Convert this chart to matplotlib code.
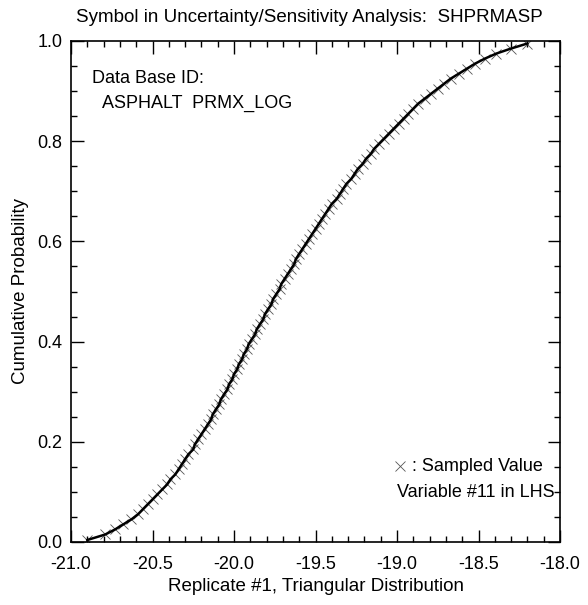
import matplotlib
matplotlib.use("Agg")
import matplotlib.pyplot as plt
from matplotlib.ticker import MultipleLocator

plt.rcParams['font.family'] = ['Liberation Sans', 'DejaVu Sans']

# cumulative probability of each LHS sample
cum_prob = [0.004, 0.015, 0.025, 0.035, 0.045, 0.055, 0.065, 0.075, 0.085, 0.095,
            0.105, 0.115, 0.125, 0.135, 0.145, 0.155, 0.165, 0.175, 0.185, 0.195,
            0.205, 0.215, 0.225, 0.235, 0.245, 0.255, 0.265, 0.275, 0.285, 0.295,
            0.305, 0.315, 0.325, 0.335, 0.345, 0.355, 0.365, 0.375, 0.385, 0.395,
            0.405, 0.415, 0.425, 0.435, 0.445, 0.455, 0.465, 0.475, 0.485, 0.495,
            0.505, 0.515, 0.525, 0.535, 0.545, 0.555, 0.565, 0.575, 0.585, 0.595,
            0.605, 0.615, 0.625, 0.635, 0.645, 0.655, 0.665, 0.675, 0.685, 0.695,
            0.705, 0.715, 0.725, 0.735, 0.745, 0.755, 0.765, 0.775, 0.785, 0.795,
            0.805, 0.815, 0.825, 0.835, 0.845, 0.855, 0.865, 0.875, 0.885, 0.895,
            0.905, 0.915, 0.925, 0.935, 0.945, 0.955, 0.965, 0.975, 0.985, 0.995]

# sampled values (log permeability)
sampled = [-20.90, -20.79, -20.73, -20.68, -20.63, -20.59, -20.56, -20.53, -20.50, -20.47,
           -20.44, -20.41, -20.39, -20.36, -20.34, -20.32, -20.30, -20.28, -20.25, -20.24,
           -20.22, -20.20, -20.18, -20.16, -20.14, -20.13, -20.11, -20.09, -20.08, -20.06,
           -20.04, -20.03, -20.01, -20.00, -19.98, -19.97, -19.95, -19.94, -19.92, -19.91,
           -19.89, -19.87, -19.86, -19.84, -19.82, -19.81, -19.79, -19.77, -19.76, -19.74,
           -19.72, -19.71, -19.69, -19.67, -19.65, -19.63, -19.62, -19.60, -19.58, -19.56,
           -19.54, -19.52, -19.50, -19.48, -19.46, -19.44, -19.42, -19.40, -19.37, -19.35,
           -19.33, -19.31, -19.28, -19.26, -19.24, -19.21, -19.19, -19.16, -19.14, -19.11,
           -19.08, -19.05, -19.02, -18.99, -18.96, -18.93, -18.90, -18.87, -18.83, -18.79,
           -18.75, -18.71, -18.67, -18.62, -18.57, -18.52, -18.46, -18.39, -18.30, -18.20]

fig = plt.figure(figsize=(5.88, 6.05), dpi=100)
ax = fig.add_axes([71/588, 1-542/605, 489/588, 501/605])

ax.plot(sampled, cum_prob, color='black', lw=1.8, zorder=3)
ax.plot(sampled, cum_prob, ls='none', marker='x', ms=7, mew=0.6,
        color='#555555', zorder=2)

ax.set_xlim(-21, -18)
ax.set_ylim(0, 1)
ax.xaxis.set_major_locator(MultipleLocator(0.5))
ax.xaxis.set_minor_locator(MultipleLocator(0.1))
ax.yaxis.set_major_locator(MultipleLocator(0.2))
ax.yaxis.set_minor_locator(MultipleLocator(0.05))
ax.xaxis.set_major_formatter(plt.FormatStrFormatter('%.1f'))
ax.yaxis.set_major_formatter(plt.FormatStrFormatter('%.1f'))
ax.tick_params(which='both', direction='in', top=True, right=True,
               labelsize=13, width=1.0)
ax.tick_params(axis='x', which='both', pad=10)
ax.tick_params(axis='y', which='both', pad=6)
ax.tick_params(which='major', length=9)
ax.tick_params(which='minor', length=4.5)
for s in ax.spines.values():
    s.set_linewidth(1.2)

ax.set_xlabel('Replicate #1, Triangular Distribution', fontsize=13.5, labelpad=4)
ax.set_ylabel('Cumulative Probability', fontsize=13.5, labelpad=6)
fig.text(309/588, 1-17/605, 'Symbol in Uncertainty/Sensitivity Analysis:  SHPRMASP',
         ha='center', va='center', fontsize=13.5)

ax.text(0.043, 0.925, 'Data Base ID:', transform=ax.transAxes, fontsize=13,
        ha='left', va='center')
ax.text(0.064, 0.875, 'ASPHALT  PRMX_LOG', transform=ax.transAxes, fontsize=13,
        ha='left', va='center')

ax.plot([0.672], [0.151], transform=ax.transAxes, marker='x', ms=7, mew=0.6,
        color='#555555', ls='none')
ax.text(0.965, 0.151, ': Sampled Value', transform=ax.transAxes, fontsize=13,
        ha='right', va='center')
ax.text(0.99, 0.099, 'Variable #11 in LHS', transform=ax.transAxes, fontsize=13,
        ha='right', va='center')

fig.savefig('out.png', dpi=100)
